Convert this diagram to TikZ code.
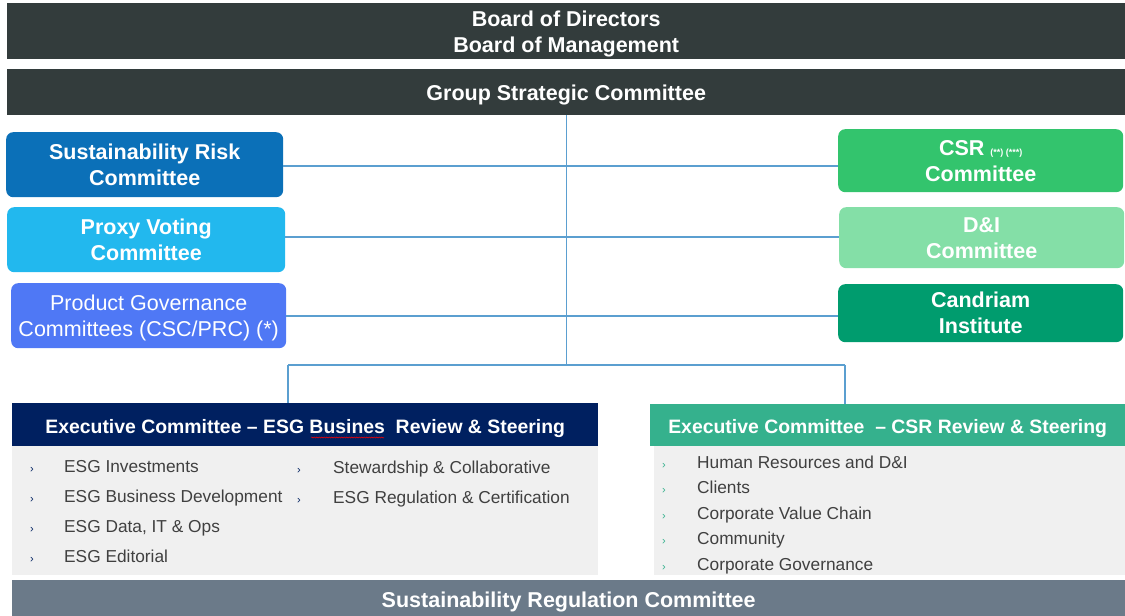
\documentclass[tikz,border=0pt]{standalone}
\usepackage{fontspec}
\setmainfont{Liberation Sans}
\usetikzlibrary{decorations.pathmorphing}
\definecolor{darkbar}{HTML}{333C3C}
\definecolor{srcblue}{HTML}{0B70B8}
\definecolor{pvcblue}{HTML}{22B8EE}
\definecolor{pgcblue}{HTML}{4F78F5}
\definecolor{csrgreen}{HTML}{33C46D}
\definecolor{digreen}{HTML}{84DFA7}
\definecolor{candgreen}{HTML}{009C6E}
\definecolor{connblue}{HTML}{5B9FD0}
\definecolor{navy}{HTML}{002060}
\definecolor{csrhead}{HTML}{35B18D}
\definecolor{botbar}{HTML}{6B7A89}
\definecolor{bodygray}{HTML}{F0F0F0}
\definecolor{itemtext}{HTML}{404040}
\begin{document}
\begin{tikzpicture}[x=1pt,y=-1pt,
  bar/.style={anchor=north west, inner sep=0pt, fill=darkbar, text=white, align=center,
    font=\fontsize{21.5}{26}\selectfont\bfseries},
  cbox/.style={anchor=north west, inner sep=0pt, rounded corners=7pt, text=white, align=center,
    font=\fontsize{21.5}{26}\selectfont\bfseries},
  head/.style={anchor=north west, inner sep=0pt, text=white,
    font=\fontsize{19.4}{23}\selectfont\bfseries},
  body/.style={anchor=north west, inner sep=0pt, fill=bodygray},
  item/.style={anchor=base west, inner sep=0pt, text=itemtext, font=\fontsize{17.3}{20}\selectfont},
  bul/.style={anchor=base west, inner sep=0pt, font=\fontsize{11}{12}\selectfont},
  conn/.style={draw=connblue, line width=1.3pt}]
\useasboundingbox (0,0) rectangle (1125,616);

% top bars
\node[bar, minimum width=1118pt, minimum height=56pt, text height=43.4pt, text depth=0pt] (board) at (7,3) {Board of Directors\\Board of Management};
\node[bar, minimum width=1118pt, minimum height=46pt, text height=16pt, text depth=0pt] (gsc) at (7,69) {Group Strategic Committee};

% left committees
\node[cbox, fill=srcblue, minimum width=277pt, minimum height=65pt] (src) at (6,132) {Sustainability Risk\\Committee};
\node[cbox, fill=pvcblue, minimum width=278pt, minimum height=65pt] (pvc) at (7,207) {Proxy Voting\\Committee};
\node[cbox, fill=pgcblue, minimum width=275pt, minimum height=65pt, text depth=0pt, font=\fontsize{21.5}{26}\selectfont] (pgc) at (11,283) {Product Governance\\Committees (CSC/PRC) (*)};

% right committees
\node[cbox, fill=csrgreen, minimum width=285pt, minimum height=63pt] (csr) at (838,129) {CSR {\fontsize{9}{9}\selectfont(**) (***)}\\Committee};
\node[cbox, fill=digreen, minimum width=285pt, minimum height=61pt] (di) at (839,207) {D\&I\\Committee};
\node[cbox, fill=candgreen, minimum width=285pt, minimum height=58pt] (cand) at (838,284) {Candriam\\Institute};

% executive committees
\node[body, minimum width=586pt, minimum height=129pt] (esgbody) at (12,446) {};
\node[head, fill=navy, minimum width=586pt, minimum height=43pt, text height=16.8pt, text depth=0pt] (esgh) at (12,403) {Executive Committee – ESG Busines\ \ Review \& Steering};
\node[body, minimum width=471pt, minimum height=129pt] (csrbody) at (654,446) {};
\node[head, fill=csrhead, minimum width=475pt, minimum height=42pt, text height=15.8pt, text depth=0pt] (csrh) at (650,404) {Executive Committee\ \ – CSR Review \& Steering};

% bottom bar
\node[bar, fill=botbar, minimum width=1113pt, minimum height=36pt, text height=18.6pt, text depth=0pt] (srcbar) at (12,580) {Sustainability Regulation Committee};

% connectors
\coordinate (j) at (gsc.south |- 0,365);
\coordinate (jl) at (288,365);
\coordinate (jr) at (845,365);
\draw[conn] (gsc.south) -- (j);
\draw[conn] (jl) -- (jr);
\draw[conn] (jl) -- (jl |- esgh.north);
\draw[conn] (jr) -- (jr |- csrh.north);
\draw[conn] (src.east |- 0,166) -- (csr.west |- 0,166);
\draw[conn] (pvc.east |- 0,237) -- (di.west |- 0,237);
\draw[conn] (pgc.east |- 0,316) -- (cand.west |- 0,316);

% wavy underline under "Busines"
\draw[red, line width=0.5pt, decorate, decoration={snake, amplitude=0.6pt, segment length=2.5pt}] (311,437.5) -- (384,437.5);

% ESG items
\foreach \t/\y [count=\i] in {ESG Investments/472, ESG Business Development/502, {ESG Data, IT \& Ops}/532, ESG Editorial/562}{
  \node[bul, text=navy] (eb\i) at (30,\y) {›};
  \node[item] (ei\i) at (64,\y) {\t};
}
\foreach \t/\y [count=\i] in {Stewardship \& Collaborative/473, ESG Regulation \& Certification/503}{
  \node[bul, text=navy] (fb\i) at (297,\y) {›};
  \node[item] (fi\i) at (333,\y) {\t};
}
% CSR items
\foreach \t/\y [count=\i] in {Human Resources and D\&I/468, Clients/493.5, Corporate Value Chain/519, Community/544.5, Corporate Governance/570}{
  \node[bul, text=csrhead] (cb\i) at (662,\y) {›};
  \node[item] (ci\i) at (697,\y) {\t};
}
\end{tikzpicture}
\end{document}
